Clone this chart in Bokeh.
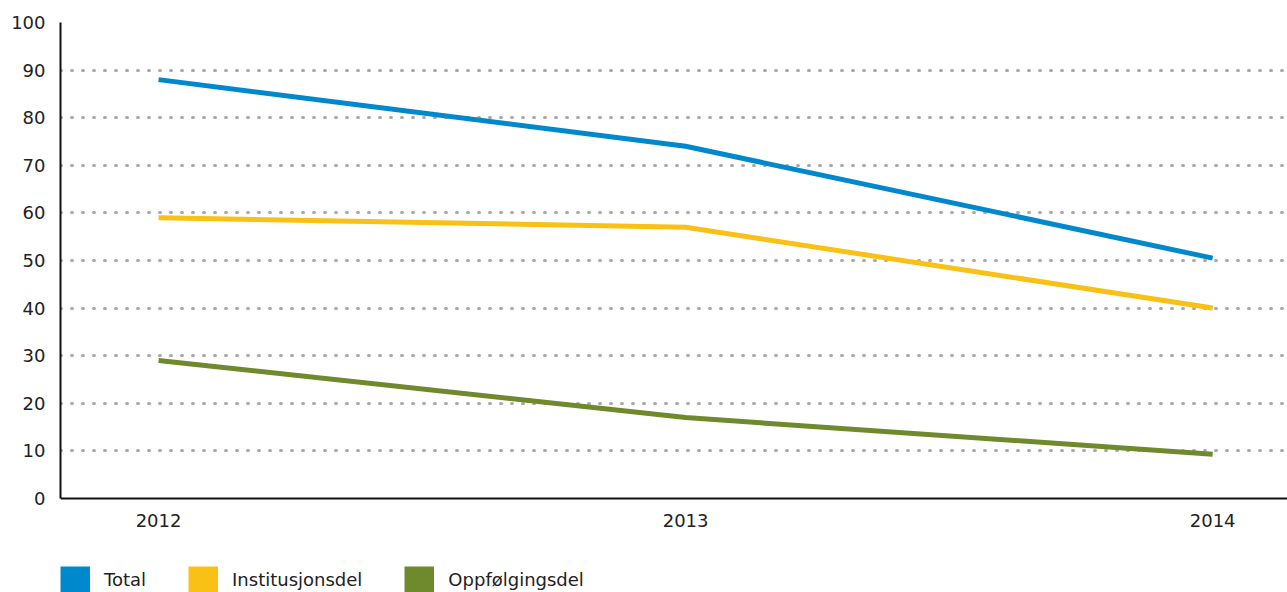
from bokeh.plotting import figure
from bokeh.models import Range1d, FixedTicker, Legend, LegendItem
from bokeh.embed import file_html
from bokeh.resources import INLINE

years = [2012, 2013, 2014]
total = [88, 74, 50.5]
institusjonsdel = [59, 57, 40]
oppfolgingsdel = [29, 17, 9.3]
y_ticks = [0, 10, 20, 30, 40, 50, 60, 70, 80, 90, 100]

series = [
    ("Total", total, "#0088CC"),
    ("Institusjonsdel", institusjonsdel, "#F9C015"),
    ("Oppfølgingsdel", oppfolgingsdel, "#6E8A2C"),
]

FONT = "DejaVu Sans"
FS = "18px"

p = figure(width=1287, height=592, output_backend="svg", toolbar_location=None,
           x_range=Range1d(2011.814, 2014.142), y_range=Range1d(-19.75, 100),
           min_border_left=60, min_border_right=0, min_border_top=22, min_border_bottom=0)
p.outline_line_color = None
p.background_fill_color = "white"
# range used only so that the legend swatch renderers lie outside the frame
p.extra_y_ranges = {"swatch": Range1d(1000, 1001)}

items = []
for name, vals, color in series:
    p.line(years, vals, line_color=color, line_width=5)
    swatch = p.line(years, vals, line_color=color, line_width=26, line_cap="butt",
                    y_range_name="swatch")
    items.append(LegendItem(label=name, renderers=[swatch]))

p.xgrid.grid_line_color = None
p.ygrid.grid_line_color = "#aaaaaa"
p.ygrid.grid_line_width = 3
p.ygrid.grid_line_dash = "1 10"
p.ygrid.grid_line_cap = "round"
p.ygrid.ticker = FixedTicker(ticks=y_ticks[1:])

for ax in (p.xaxis[0], p.yaxis[0]):
    ax.major_tick_line_color = None
    ax.minor_tick_line_color = None
    ax.major_tick_out = 0
    ax.major_tick_in = 0
    ax.minor_tick_out = 0
    ax.axis_line_color = "#111111"
    ax.axis_line_width = 2
    ax.major_label_text_font = FONT
    ax.major_label_text_font_size = FS
    ax.major_label_text_color = "#222222"
p.xaxis.ticker = FixedTicker(ticks=years)
p.xaxis.major_label_standoff = 16
p.xaxis.fixed_location = 0
p.yaxis.ticker = FixedTicker(ticks=y_ticks)
p.yaxis.major_label_standoff = 15
p.yaxis.bounds = (0, 100)

legend = Legend(items=items, orientation="horizontal", location=(0, 0),
                glyph_width=30, glyph_height=26, label_standoff=14, spacing=42,
                padding=0, margin=0, border_line_color=None, background_fill_alpha=0,
                label_text_font=FONT, label_text_font_size=FS, label_text_color="#222222")
p.add_layout(legend, "center")

open("out.html", "w").write(file_html(p, INLINE))
